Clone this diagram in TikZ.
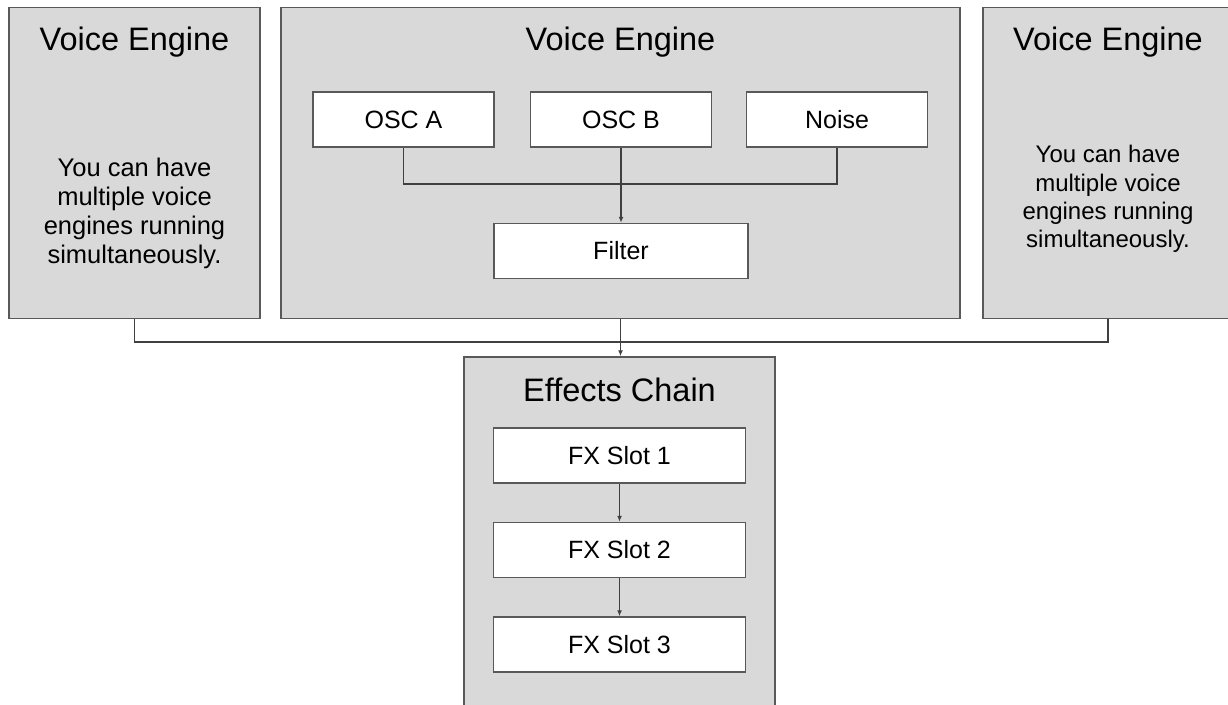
\documentclass[tikz,border=0pt]{standalone}
\usepackage{fontspec}
\setmainfont{Liberation Sans}
\usetikzlibrary{positioning,arrows.meta}
\definecolor{panelgray}{HTML}{D9D9D9}
\definecolor{edgegray}{HTML}{595959}
\tikzset{panel/.style={draw=edgegray,line width=1.5pt,fill=panelgray,inner sep=0pt}}
\tikzset{block/.style={draw=edgegray,line width=1.5pt,fill=white,minimum width=181pt,minimum height=55pt,inner sep=0pt,font=\fontsize{25}{30}\selectfont}}
\tikzset{heading/.style={anchor=base,inner sep=0pt,font=\fontsize{32.5}{39}\selectfont}}
\tikzset{note/.style={align=center,inner sep=0pt}}
\tikzset{wire/.style={draw=black!75,line width=1.3pt}}
\tikzset{flow/.style={wire,-{Latex[length=6pt,width=5pt]}}}

\begin{document}
\begin{tikzpicture}[x=1pt,y=-1pt]
\useasboundingbox (0,0) rectangle (1228,704);
\clip (0,0) rectangle (1228,704);
\node[panel,minimum width=251pt,minimum height=311pt](engL) at (134.5,163){};
\node[panel,minimum width=679pt,minimum height=311pt](engM) at (620.5,163){};
\node[panel,minimum width=250pt,minimum height=311pt](engR) at (1108,163){};
\node[panel,minimum width=311pt,minimum height=360pt](chain) at (619.5,537){};
\node[heading](titleL) at (134.5,50){Voice Engine};
\node[heading](titleM) at (620.5,50){Voice Engine};
\node[heading](titleR) at (1108,50){Voice Engine};
\node[heading](titleC) at (619.5,401){Effects Chain};
\node[note,font=\fontsize{25.5}{29}\selectfont](noteL) at (134.5,213){You can have\\multiple voice\\engines running\\simultaneously.};
\node[note,font=\fontsize{24}{28.3}\selectfont](noteR) at (1108,199){You can have\\multiple voice\\engines running\\simultaneously.};
\node[block](oscA) at (403.5,119.5){OSC A};
\node[block](oscB) at (621,119.5){OSC B};
\node[block](noise) at (837,119.5){Noise};
\node[block,minimum width=254pt](filter) at (621,251){Filter};
\node[block,minimum width=252pt](slot1) at (619.5,455.5){FX Slot 1};
\node[block,minimum width=252pt,below=38pt of slot1](slot2){FX Slot 2};
\node[block,minimum width=252pt,below=38pt of slot2](slot3){FX Slot 3};
\coordinate (busM) at (621,184);
\coordinate (busB) at (621,342);
\draw[wire] (oscA.south) |- (busM);
\draw[wire] (noise.south) |- (busM);
\draw[flow] (oscB.south) -- (filter.north);
\draw[wire] (engL.south) |- (busB);
\draw[wire] (engR.south) |- (busB);
\draw[flow] (engM.south) -- (engM.south |- chain.north);
\draw[flow] (slot1) -- (slot2);
\draw[flow] (slot2) -- (slot3);
\end{tikzpicture}
\end{document}
